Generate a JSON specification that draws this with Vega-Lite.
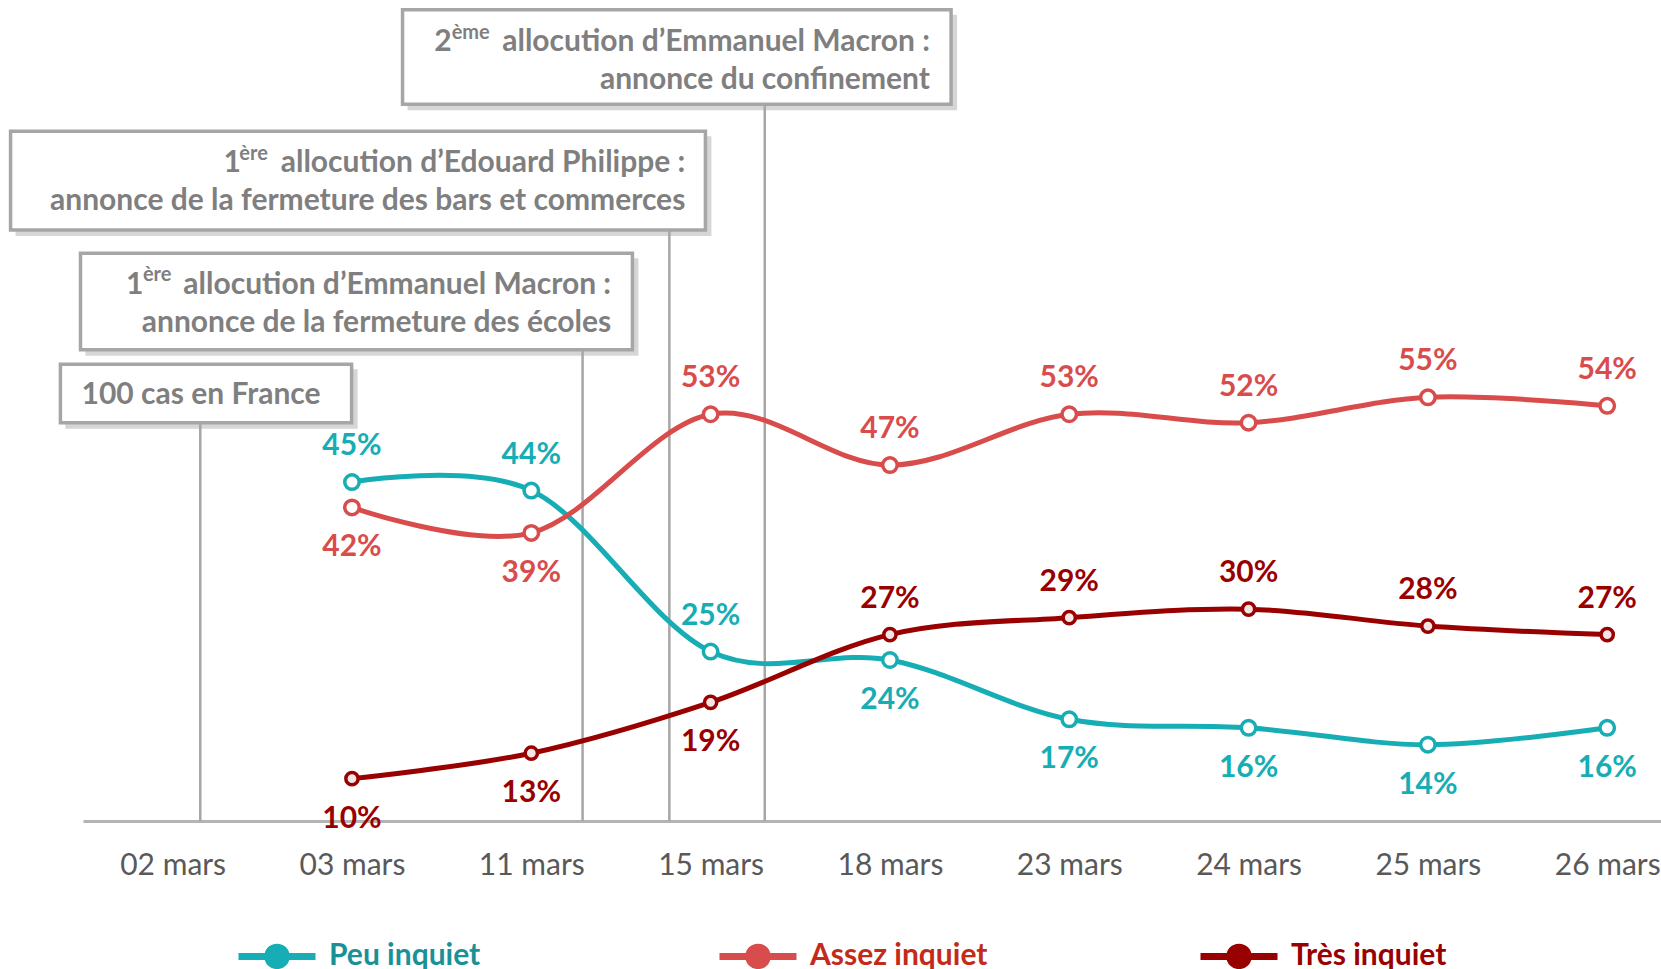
{
  "$schema": "https://vega.github.io/schema/vega-lite/v6.json",
  "width": 1578,
  "height": 805,
  "autosize": {"type": "none"},
  "padding": {"left": 83, "top": 16, "right": 0, "bottom": 148},
  "background": "white",
  "config": {"view": {"stroke": null}, "font": "Lato"},
  "datasets": {
    "series": [
      {"jour": "03 mars", "i": 1, "serie": "Peu inquiet", "v": 0.45},
      {"jour": "11 mars", "i": 2, "serie": "Peu inquiet", "v": 0.44},
      {"jour": "15 mars", "i": 3, "serie": "Peu inquiet", "v": 0.25},
      {"jour": "18 mars", "i": 4, "serie": "Peu inquiet", "v": 0.24},
      {"jour": "23 mars", "i": 5, "serie": "Peu inquiet", "v": 0.17},
      {"jour": "24 mars", "i": 6, "serie": "Peu inquiet", "v": 0.16},
      {"jour": "25 mars", "i": 7, "serie": "Peu inquiet", "v": 0.14},
      {"jour": "26 mars", "i": 8, "serie": "Peu inquiet", "v": 0.16},
      {"jour": "03 mars", "i": 1, "serie": "Assez inquiet", "v": 0.42},
      {"jour": "11 mars", "i": 2, "serie": "Assez inquiet", "v": 0.39},
      {"jour": "15 mars", "i": 3, "serie": "Assez inquiet", "v": 0.53},
      {"jour": "18 mars", "i": 4, "serie": "Assez inquiet", "v": 0.47},
      {"jour": "23 mars", "i": 5, "serie": "Assez inquiet", "v": 0.53},
      {"jour": "24 mars", "i": 6, "serie": "Assez inquiet", "v": 0.52},
      {"jour": "25 mars", "i": 7, "serie": "Assez inquiet", "v": 0.55},
      {"jour": "26 mars", "i": 8, "serie": "Assez inquiet", "v": 0.54},
      {"jour": "03 mars", "i": 1, "serie": "Très inquiet", "v": 0.10},
      {"jour": "11 mars", "i": 2, "serie": "Très inquiet", "v": 0.13},
      {"jour": "15 mars", "i": 3, "serie": "Très inquiet", "v": 0.19},
      {"jour": "18 mars", "i": 4, "serie": "Très inquiet", "v": 0.27},
      {"jour": "23 mars", "i": 5, "serie": "Très inquiet", "v": 0.29},
      {"jour": "24 mars", "i": 6, "serie": "Très inquiet", "v": 0.30},
      {"jour": "25 mars", "i": 7, "serie": "Très inquiet", "v": 0.28},
      {"jour": "26 mars", "i": 8, "serie": "Très inquiet", "v": 0.27}
    ],
    "events": [
      {"evenement": "100 cas en France", "i": 0.154, "haut": 0.52},
      {"evenement": "1ère allocution d’Emmanuel Macron", "i": 2.286, "haut": 0.606},
      {"evenement": "1ère allocution d’Edouard Philippe", "i": 2.770, "haut": 0.7475},
      {"evenement": "2ème allocution d’Emmanuel Macron", "i": 3.302, "haut": 0.896}
    ],
    "boxes": [
      {"x1": 1.282, "x2": 4.341, "y1": 1.0075, "y2": 0.896},
      {"x1": -0.904, "x2": 2.971, "y1": 0.864, "y2": 0.7475},
      {"x1": -0.514, "x2": 2.564, "y1": 0.72, "y2": 0.606},
      {"x1": -0.626, "x2": 0.998, "y1": 0.589, "y2": 0.52}
    ],
    "notesLeft": [
      {"x": 1.459, "y": 0.969, "t": "2"},
      {"x": 0.2835, "y": 0.8265, "t": "1"},
      {"x": -0.260, "y": 0.683, "t": "1"},
      {"x": -0.508, "y": 0.553, "t": "100 cas en France"}
    ],
    "notesSup": [
      {"x": 1.556, "y": 0.98, "t": "ème"},
      {"x": 0.372, "y": 0.8375, "t": "ère"},
      {"x": -0.166, "y": 0.6938, "t": "ère"}
    ],
    "notesRight": [
      {"x": 4.223, "y": 0.969, "t": "allocution d’Emmanuel Macron :"},
      {"x": 4.223, "y": 0.924, "t": "annonce du confinement"},
      {"x": 2.859, "y": 0.8265, "t": "allocution d’Edouard Philippe :"},
      {"x": 2.859, "y": 0.7815, "t": "annonce de la fermeture des bars et commerces"},
      {"x": 2.445, "y": 0.683, "t": "allocution d’Emmanuel Macron :"},
      {"x": 2.445, "y": 0.638, "t": "annonce de la fermeture des écoles"}
    ]
  },
  "layer": [
    {
      "data": {"name": "boxes"},
      "mark": {"type": "rect", "fill": "#c8c8c8", "opacity": 0.75, "xOffset": 5, "x2Offset": 6, "yOffset": 5, "y2Offset": 6},
      "encoding": {
        "x": {"field": "x1", "type": "quantitative", "scale": {"domain": [-0.5, 8.3], "nice": false, "zero": false},
          "axis": {
            "values": [0, 1, 2, 3, 4, 5, 6, 7, 8],
            "labelExpr": "['02 mars','03 mars','11 mars','15 mars','18 mars','23 mars','24 mars','25 mars','26 mars'][datum.value]",
            "title": null, "grid": false, "ticks": false,
            "domainColor": "#b4b4b4", "domainWidth": 3,
            "labelFont": "Lato", "labelFontSize": 30, "labelColor": "#595959",
            "labelPadding": 44, "labelBaseline": "middle", "labelFlush": false, "labelOverlap": false, "labelBound": false
          }},
        "x2": {"field": "x2"},
        "y": {"field": "y1", "type": "quantitative", "scale": {"domain": [0.05, 1.0], "nice": false, "zero": false}, "axis": null},
        "y2": {"field": "y2"}
      }
    },
    {
      "data": {"name": "boxes"},
      "mark": {"type": "rect", "fill": "white", "stroke": "#a6a6a6", "strokeWidth": 3.5},
      "encoding": {
        "x": {"field": "x1", "type": "quantitative"},
        "x2": {"field": "x2"},
        "y": {"field": "y1", "type": "quantitative"},
        "y2": {"field": "y2"}
      }
    },
    {
      "data": {"name": "events"},
      "mark": {"type": "rule", "stroke": "#a6a6a6", "strokeWidth": 2.5},
      "encoding": {
        "x": {"field": "i", "type": "quantitative"},
        "y": {"field": "haut", "type": "quantitative"},
        "y2": {"datum": 0.05}
      }
    },
    {
      "data": {"name": "notesLeft"},
      "mark": {"type": "text", "align": "left", "baseline": "middle", "font": "Lato", "fontWeight": "bold", "fontSize": 30, "fill": "#7f7f7f"},
      "encoding": {
        "x": {"field": "x", "type": "quantitative"},
        "y": {"field": "y", "type": "quantitative"},
        "text": {"field": "t", "type": "nominal"}
      }
    },
    {
      "data": {"name": "notesSup"},
      "mark": {"type": "text", "align": "left", "baseline": "middle", "font": "Lato", "fontWeight": "bold", "fontSize": 20, "fill": "#7f7f7f"},
      "encoding": {
        "x": {"field": "x", "type": "quantitative"},
        "y": {"field": "y", "type": "quantitative"},
        "text": {"field": "t", "type": "nominal"}
      }
    },
    {
      "data": {"name": "notesRight"},
      "mark": {"type": "text", "align": "right", "baseline": "middle", "font": "Lato", "fontWeight": "bold", "fontSize": 30, "fill": "#7f7f7f"},
      "encoding": {
        "x": {"field": "x", "type": "quantitative"},
        "y": {"field": "y", "type": "quantitative"},
        "text": {"field": "t", "type": "nominal"}
      }
    },
    {
      "data": {"name": "series"},
      "mark": {"type": "line", "interpolate": "cardinal", "strokeWidth": 5},
      "encoding": {
        "x": {"field": "i", "type": "quantitative"},
        "y": {"field": "v", "type": "quantitative"},
        "color": {
          "field": "serie", "type": "nominal",
          "scale": {"domain": ["Peu inquiet", "Assez inquiet", "Très inquiet"], "range": ["#17adb5", "#d94c4c", "#990000"]},
          "legend": {
            "orient": "none", "legendX": 152, "legendY": 898, "direction": "horizontal",
            "title": null, "padding": 0,
            "symbolType": "M-1,0L-0.24,0M0.24,0L1,0M0.24,0A0.24,0.24,0,1,1,-0.24,0A0.24,0.24,0,1,1,0.24,0Z",
            "symbolSize": 5929, "symbolStrokeWidth": 7, "symbolFillColor": "white",
            "labelFont": "Lato", "labelFontWeight": "bold", "labelFontSize": 30, "labelOffset": 10,
            "gridAlign": "all", "columnPadding": 198, "labelLimit": 400,
            "encode": {
              "symbols": {"update": {
                "fill": {"value": "white"},
                "stroke": [
                  {"test": "datum.value === 'Peu inquiet'", "value": "#17adb5"},
                  {"test": "datum.value === 'Assez inquiet'", "value": "#c42a1a"},
                  {"value": "#990000"}
                ],
                "strokeWidth": {"value": 7}
              }},
              "labels": {"update": {
                "fill": [
                  {"test": "datum.value === 'Peu inquiet'", "value": "#1a9199"},
                  {"test": "datum.value === 'Assez inquiet'", "value": "#c42a1a"},
                  {"value": "#990000"}
                ]
              }}
            }
          }
        }
      }
    },
    {
      "data": {"name": "series"},
      "transform": [{"filter": "datum.serie != 'Très inquiet'"}],
      "mark": {"type": "point", "shape": "circle", "filled": false, "fill": "white", "strokeWidth": 3.5, "opacity": 1, "size": 210},
      "encoding": {
        "x": {"field": "i", "type": "quantitative"},
        "y": {"field": "v", "type": "quantitative"},
        "stroke": {"field": "serie", "type": "nominal", "scale": {"domain": ["Peu inquiet", "Assez inquiet", "Très inquiet"], "range": ["#17adb5", "#d94c4c", "#990000"]}, "legend": null}
      }
    },
    {
      "data": {"name": "series"},
      "transform": [{"filter": "datum.serie == 'Très inquiet'"}],
      "mark": {"type": "point", "shape": "circle", "filled": false, "fill": "#f2e6e6", "strokeWidth": 3.5, "opacity": 1, "size": 150},
      "encoding": {
        "x": {"field": "i", "type": "quantitative"},
        "y": {"field": "v", "type": "quantitative"},
        "stroke": {"field": "serie", "type": "nominal", "legend": null}
      }
    },
    {
      "data": {"name": "series"},
      "transform": [{"filter": "!((datum.serie == 'Peu inquiet' && datum.i >= 4) || (datum.serie == 'Assez inquiet' && datum.i <= 2) || (datum.serie == 'Très inquiet' && datum.i <= 3))"}],
      "mark": {"type": "text", "baseline": "middle", "align": "center", "dy": -36, "font": "Lato", "fontWeight": "bold", "fontSize": 30},
      "encoding": {
        "x": {"field": "i", "type": "quantitative"},
        "y": {"field": "v", "type": "quantitative"},
        "text": {"field": "v", "type": "quantitative", "format": ".0%"},
        "fill": {"field": "serie", "type": "nominal", "scale": {"domain": ["Peu inquiet", "Assez inquiet", "Très inquiet"], "range": ["#17adb5", "#d94c4c", "#990000"]}, "legend": null}
      }
    },
    {
      "data": {"name": "series"},
      "transform": [{"filter": "(datum.serie == 'Peu inquiet' && datum.i >= 4) || (datum.serie == 'Assez inquiet' && datum.i <= 2) || (datum.serie == 'Très inquiet' && datum.i <= 3)"}],
      "mark": {"type": "text", "baseline": "middle", "align": "center", "dy": 40, "font": "Lato", "fontWeight": "bold", "fontSize": 30},
      "encoding": {
        "x": {"field": "i", "type": "quantitative"},
        "y": {"field": "v", "type": "quantitative"},
        "text": {"field": "v", "type": "quantitative", "format": ".0%"},
        "fill": {"field": "serie", "type": "nominal", "legend": null}
      }
    }
  ]
}
